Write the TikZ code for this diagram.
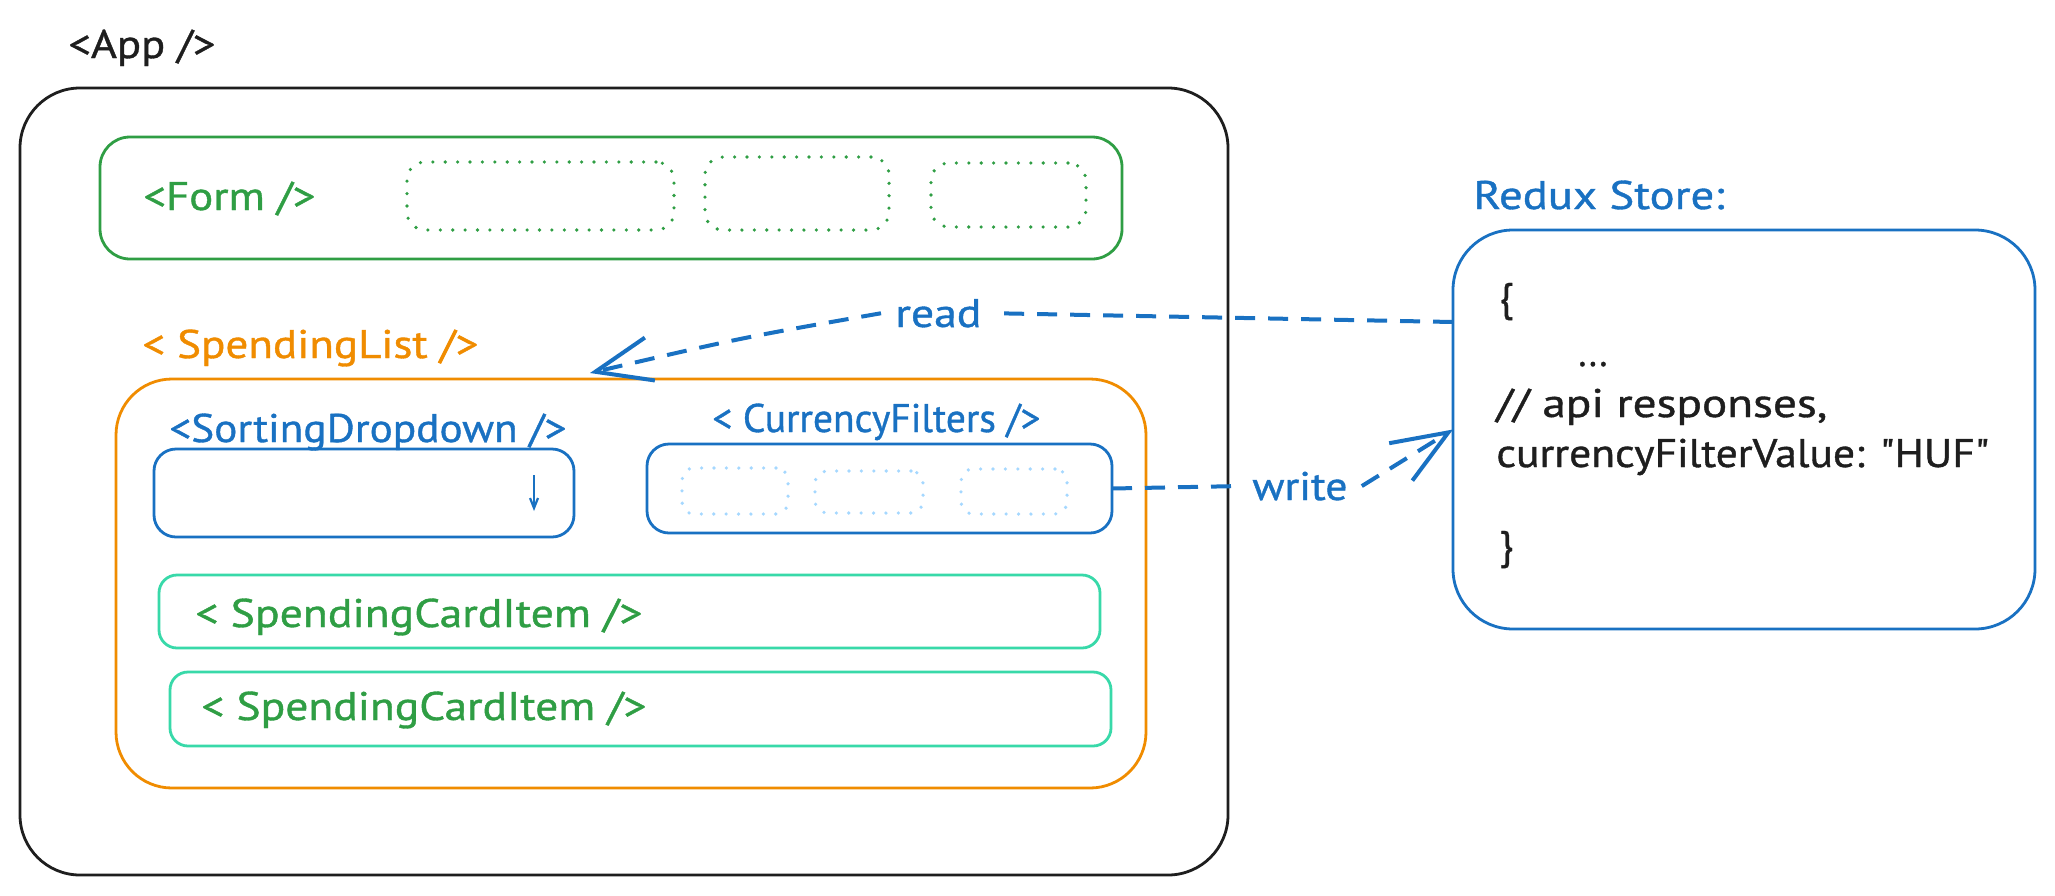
\documentclass[tikz,border=0pt]{standalone}
\usepackage{fontspec}
\setmainfont{PT Sans}
\newfontfamily\handfont[FakeBold=0.9]{PT Sans}
\usepackage{graphicx}
\usetikzlibrary{arrows.meta}
\definecolor{exblack}{HTML}{1E1E1E}
\definecolor{exgreen}{HTML}{2F9E44}
\definecolor{exorange}{HTML}{F08C00}
\definecolor{exblue}{HTML}{1971C2}
\definecolor{exteal}{HTML}{38D9A9}
\definecolor{exlblue}{HTML}{A5D8FF}
\newlength\pxu \setlength\pxu{0.5pt}
\newcommand\fitw[2]{\resizebox{#1\pxu}{\height}{#2}}
\newcommand\bx[7]{\node[#6, rounded corners=#7, minimum width={(#4-#2)*0.5pt}, minimum height={(#5-#3)*0.5pt}] (#1) at ({(#2+#4)/2},{(#3+#5)/2}) {};}
\tikzset{
  boxline/.style={draw=#1, line width=1.4pt, inner sep=0pt, outer sep=0pt},
  dotbox/.style={draw=#1, line width=1.8pt, dash pattern=on 0pt off 6.2pt, line cap=round, inner sep=0pt, outer sep=0pt},
  lbl/.style={inner sep=0pt, anchor=base west, font=\handfont\fontsize{20pt}{24pt}\selectfont, text=#1},
  arrlbl/.style={inner ysep=0pt, inner xsep=7pt, anchor=base west, font=\handfont\fontsize{20pt}{24pt}\selectfont, text=exblue},
  conn/.style={draw=exblue, line width=2pt, dash pattern=on 10pt off 6.5pt},
  barb/.style={-{Straight Barb[length=28pt, width=22pt, line width=2pt]}}
}
\begin{document}
\begin{tikzpicture}[x=0.5pt,y=-0.5pt]
\fill[white] (0,0) rectangle (2055,895);
\useasboundingbox (0,0) rectangle (2055,895);

% boxes
\bx{app}{20}{88}{1228}{875}{boxline=exblack}{30pt}
\bx{form}{100}{137}{1122}{259}{boxline=exgreen}{15pt}
\bx{fd1}{407}{162}{674}{230}{dotbox=exgreen}{9pt}
\bx{fd2}{705}{157}{889}{230}{dotbox=exgreen}{9pt}
\bx{fd3}{931}{163}{1086}{227}{dotbox=exgreen}{9pt}
\bx{slist}{116}{379}{1146}{788}{boxline=exorange}{28pt}
\bx{sdd}{154}{449}{574}{537}{boxline=exblue}{11pt}
\bx{cf}{647}{444}{1112}{533}{boxline=exblue}{11pt}
\bx{cfd1}{682}{468}{788}{514}{dotbox=exlblue}{6pt}
\bx{cfd2}{815}{471}{923}{513}{dotbox=exlblue}{6pt}
\bx{cfd3}{961}{469}{1067}{514}{dotbox=exlblue}{6pt}
\bx{sci1}{159}{575}{1100}{648}{boxline=exteal}{9pt}
\bx{sci2}{170}{672}{1111}{746}{boxline=exteal}{9pt}
\bx{redux}{1453}{230}{2035}{629}{boxline=exblue}{30pt}

% dropdown arrow glyph
\draw[exblue, line width=1.1pt, -{Straight Barb[length=5pt, width=4pt]}] (534,475) -- (534,511);

% labels
\node[lbl=exblack] (applbl) at (68,58) {\fitw{147}{<App />}};
\node[lbl=exgreen] (formlbl) at (143,210) {\fitw{172}{<Form />}};
\node[lbl=exorange] (sllbl) at (142,358) {\fitw{336}{< SpendingList />}};
\node[lbl=exblue] (sddlbl) at (169,442) {\fitw{397}{<SortingDropdown />}};
\node[lbl=exblue] (cflbl) at (712,432) {\fitw{328}{< CurrencyFilters />}};
\node[lbl=exgreen] (sci1lbl) at (195,627) {\fitw{447}{< SpendingCardItem />}};
\node[lbl=exgreen] (sci2lbl) at (201,720) {\fitw{445}{< SpendingCardItem />}};
\node[lbl=exblue] (reduxlbl) at (1473,209) {\fitw{251}{Redux Store:}};

% store content
\node[lbl=exblack] (obrace) at (1499,311) {\{};
\node[lbl=exblack] (dots) at (1578,366) {\fitw{29}{...}};
\node[lbl=exblack] (apiline) at (1496,417) {\fitw{331}{// api responses,}};
\node[lbl=exblack] (cfvline) at (1496,467) {\fitw{493}{currencyFilterValue: \symbol{34}HUF\symbol{34}}};
\node[lbl=exblack] (cbrace) at (1499,559) {\}};

% connectors
\node[arrlbl] (readlbl) at (881,327) {\fitw{86}{read}};
\node[arrlbl] (writelbl) at (1238,500) {\fitw{95}{write}};
\coordinate (readtip) at (590,373);

\draw[conn] ([yshift=-46pt]redux.north west) -- (readlbl.east);
\draw[conn, barb] (readlbl.west) .. controls (740,338) .. (readtip);
\draw[conn] (cf.east) -- (writelbl.west);
\draw[conn, barb] (writelbl.east) -- (redux.west);
\end{tikzpicture}
\end{document}
